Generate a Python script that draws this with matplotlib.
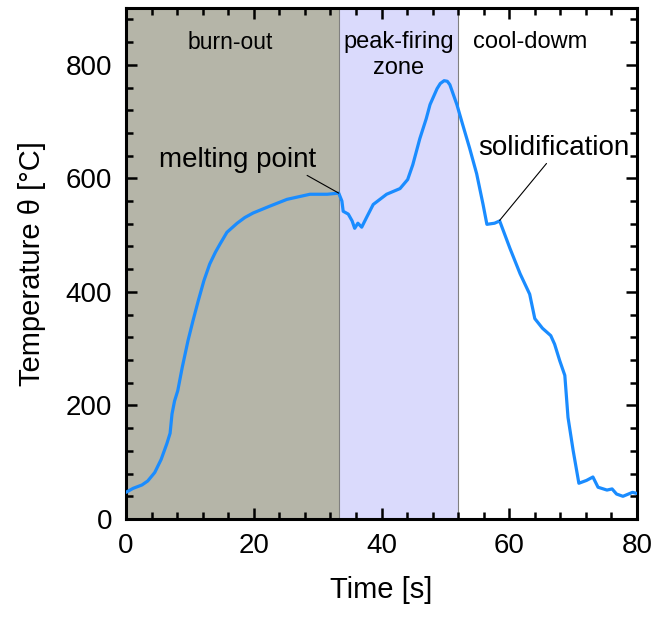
import numpy as np
import matplotlib
matplotlib.use("Agg")
import matplotlib.pyplot as plt
from matplotlib.ticker import MultipleLocator

plt.rcParams['font.family'] = ['Liberation Sans', 'DejaVu Sans']

# temperature profile
time_s = [0.0, 1.1, 2.5, 3.4, 4.5, 5.5, 6.4, 6.9, 7.2, 7.6, 8.1, 8.8, 9.7, 10.5,
          11.3, 12.2, 13.1, 14.0, 14.7, 15.8, 17.4, 18.6, 19.9, 22.5, 25.2, 28.8,
          31.5, 33.3, 33.8, 34.0, 34.8, 35.4, 35.8, 36.3, 36.9, 37.7, 38.7, 40.8,
          42.9, 44.1, 44.9, 46.0, 47.0, 47.6, 48.7, 49.2, 49.8, 50.3, 50.7,
          51.8, 52.7, 53.8, 54.9, 55.9, 56.5, 57.7, 58.5, 60.1, 61.7, 63.2, 64.0,
          65.2, 66.5, 67.1, 67.9, 68.7, 69.2, 70.0, 70.9, 72.1, 73.1, 73.9, 75.3,
          76.1, 76.8, 77.8, 79.3, 80.0]
temp_c = [47, 54, 60, 67, 82, 105, 133, 151, 185, 208, 226, 267, 314, 350,
          384, 420, 449, 470, 484, 505, 521, 531, 539, 551, 563, 572,
          572, 574, 560, 542, 537, 525, 512, 521, 514, 532, 554, 572,
          582, 598, 624, 670, 705, 730, 758, 767, 772, 771, 765,
          730, 695, 653, 608, 554, 519, 521, 525, 477, 432, 396, 353,
          336, 323, 308, 279, 253, 179, 121, 63, 68, 74, 56, 51,
          53, 44, 40, 47, 45]

zone_edges = [0, 33.3, 52.0]
zone_colors = ['#b5b5a8', '#dadafc']

fig = plt.figure(figsize=(6.55, 6.17), dpi=100)
ax = fig.add_axes([0.1924, 0.1588, 0.7801, 0.8282])

for i in range(2):
    ax.axvspan(zone_edges[i], zone_edges[i + 1], color=zone_colors[i], lw=0, zorder=0)
for x in zone_edges[1:]:
    ax.axvline(x, color='#808080', lw=0.8, zorder=1)

ax.plot(time_s, temp_c, color='#1a8cff', lw=2.3, zorder=3,
        solid_joinstyle='round', solid_capstyle='round')

ax.set_xlim(0, 80)
ax.set_ylim(0, 900)
ax.xaxis.set_major_locator(MultipleLocator(20))
ax.xaxis.set_minor_locator(MultipleLocator(4))
ax.yaxis.set_major_locator(MultipleLocator(200))
ax.yaxis.set_minor_locator(MultipleLocator(40))
ax.tick_params(which='both', direction='in', top=True, right=True, width=1.8, labelsize=20)
ax.tick_params(which='major', length=8, pad=10)
ax.tick_params(which='minor', length=5)
for s in ax.spines.values():
    s.set_linewidth(2.2)

ax.set_xlabel('Time [s]', fontsize=21, labelpad=12)
ax.set_ylabel('Temperature θ [°C]', fontsize=21, labelpad=14)

ax.text(16.3, 840, 'burn-out', fontsize=16.5, ha='center', va='center')
ax.text(42.7, 817, 'peak-firing\nzone', fontsize=17, ha='center', va='center', linespacing=1.25)
ax.text(63.2, 840, 'cool-dowm', fontsize=17, ha='center', va='center')

ax.annotate('melting point', xy=(33.3, 574), xytext=(17.5, 633), fontsize=20,
            ha='center', va='center',
            arrowprops=dict(arrowstyle='-', color='black', lw=0.8, shrinkA=0, shrinkB=0,
                            relpos=(0.88, 0.1)))
ax.annotate('solidification', xy=(58.5, 526), xytext=(67.0, 654), fontsize=20,
            ha='center', va='center',
            arrowprops=dict(arrowstyle='-', color='black', lw=0.8, shrinkA=0, shrinkB=0,
                            relpos=(0.48, 0.1)))

fig.savefig('out.png', dpi=100)
